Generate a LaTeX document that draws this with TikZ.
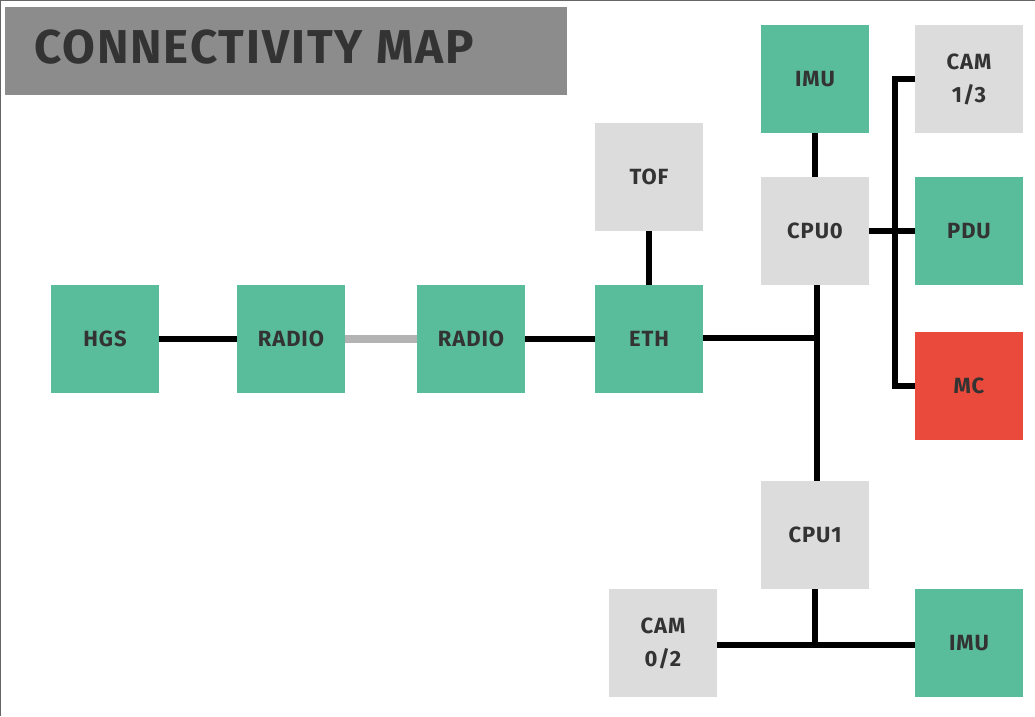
\documentclass[tikz,border=0pt]{standalone}
\usepackage{fontspec}
\setmainfont{Fira Sans}
\newfontfamily\dinfont[LetterSpace=4]{Fira Sans}
\definecolor{boxgreen}{HTML}{59BD9B}
\definecolor{boxgray}{HTML}{DCDCDC}
\definecolor{boxred}{HTML}{E94A3B}
\definecolor{titlegray}{HTML}{8C8C8C}
\definecolor{txt}{HTML}{333333}
\definecolor{linkgray}{HTML}{B3B3B3}
\tikzset{
  unit/.style={minimum width=108pt, minimum height=108pt, inner sep=0pt, outer sep=0pt,
    text=txt, font=\dinfont\bfseries\fontsize{22}{33}\selectfont, align=center},
  gbox/.style={unit, fill=boxgreen},
  lbox/.style={unit, fill=boxgray},
  rbox/.style={unit, fill=boxred},
  wire/.style={line width=6pt, black},
  radiolink/.style={line width=8pt, linkgray},
}
\begin{document}
\begin{tikzpicture}[x=1pt,y=-1pt]
\useasboundingbox (0,0) rectangle (1035,716);
\fill[white] (0,0) rectangle (1035,716);
\draw[line width=2pt, color=black!60] (0,716) -- (0,0) -- (1035,0);
% title
\node[fill=titlegray, minimum width=562pt, minimum height=88pt, inner sep=0pt, anchor=north west] (titlebox) at (5,7) {};
\node[anchor=base west, inner sep=0pt, text=txt, font=\dinfont\bfseries\fontsize{47.5}{50}\selectfont] (title) at (34,63) {CONNECTIVITY MAP};
% nodes
\node[gbox] (hgs) at (105,339) {HGS};
\node[gbox] (r1) at (291,339) {RADIO};
\node[gbox] (r2) at (471,339) {RADIO};
\node[gbox] (eth) at (649,339) {ETH};
\node[lbox] (tof) at (649,177) {TOF};
\node[gbox] (imu1) at (815,79) {IMU};
\node[lbox] (cpu0) at (815,231) {CPU0};
\node[lbox] (cam13) at (969,79) {CAM\\1/3};
\node[gbox] (pdu) at (969,231) {PDU};
\node[rbox] (mc) at (969,386) {MC};
\node[lbox] (cpu1) at (815,535) {CPU1};
\node[lbox] (cam02) at (663,643) {CAM\\0/2};
\node[gbox] (imu2) at (969,643) {IMU};
% junctions
\coordinate (j1) at (817,338);
\coordinate (bus) at (895,231);
\coordinate (j2) at (815,645);
% connectors
\draw[wire] (hgs) -- (r1);
\draw[radiolink] (r1) -- (r2);
\draw[wire] (r2) -- (eth);
\draw[wire] (eth) -- (tof);
\draw[wire] (imu1) -- (cpu0);
\draw[wire] (cpu0.south -| j1) -- (cpu1.north -| j1);
\draw[wire] (eth.east |- j1) -- (j1);
\draw[wire] (cam13.west) -| (bus) |- (mc.west);
\draw[wire] (cpu0) -- (pdu);
\draw[wire] (cpu1) -- (j2);
\draw[wire] (cam02.east |- j2) -- (imu2.west |- j2);
\end{tikzpicture}
\end{document}
